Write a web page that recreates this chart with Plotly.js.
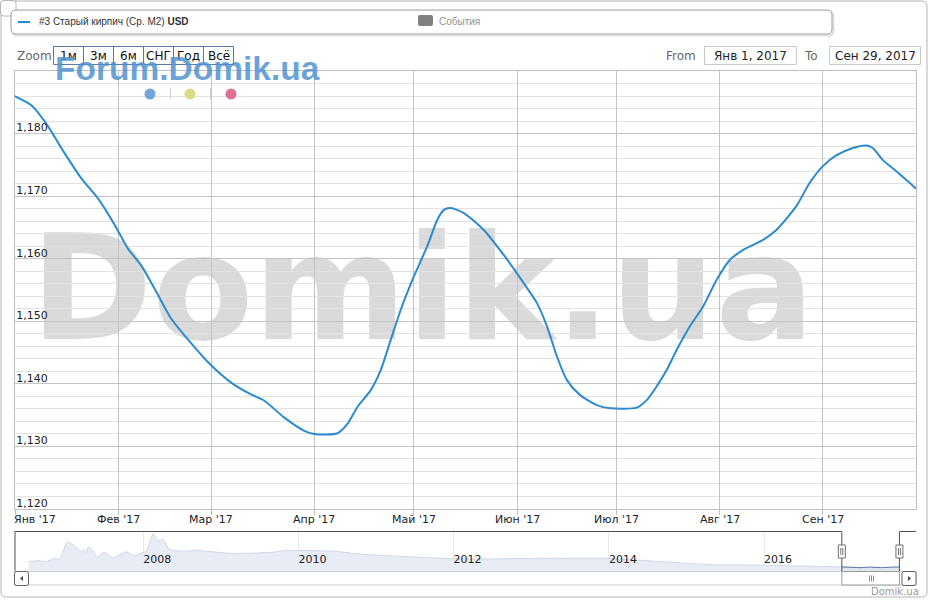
<!DOCTYPE html>
<html>
<head>
<meta charset="utf-8">
<script src="https://cdn.plot.ly/plotly-3.0.1.min.js"></script>
<style>html,body{margin:0;padding:0;background:#fff;}#chart{width:931px;height:600px;}</style>
</head>
<body>
<div id="chart"></div>
<script>
// ---- data ----
const seriesName = "#3 Старый кирпич (Ср. М2) <b>USD</b>";
const mainDates = ['2016-12-31','2017-01-06','2017-01-10','2017-01-16','2017-01-21','2017-01-26','2017-01-31','2017-02-04','2017-02-08','2017-02-12','2017-02-17','2017-02-22','2017-02-28','2017-03-07','2017-03-13','2017-03-17','2017-03-23','2017-03-29','2017-04-01','2017-04-08','2017-04-11','2017-04-14','2017-04-18','2017-04-21','2017-04-24','2017-04-27','2017-05-01','2017-05-05','2017-05-08','2017-05-10','2017-05-12','2017-05-16','2017-05-22','2017-05-28','2017-06-03','2017-06-07','2017-06-10','2017-06-13','2017-06-16','2017-06-20','2017-06-25','2017-06-29','2017-07-07','2017-07-10','2017-07-13','2017-07-16','2017-07-19','2017-07-23','2017-07-27','2017-07-31','2017-08-04','2017-08-08','2017-08-14','2017-08-18','2017-08-24','2017-08-28','2017-09-01','2017-09-05','2017-09-10','2017-09-14','2017-09-16','2017-09-19','2017-09-23','2017-09-29'];
const mainValues = [1186.2,1184.5,1181.9,1176.8,1172.8,1169.6,1165.4,1161.6,1158.9,1155.2,1150.4,1147.1,1143.5,1140.2,1138.3,1137.3,1134.6,1132.5,1132.0,1132.1,1133.6,1136.3,1139.0,1142.2,1147.0,1151.8,1157.2,1162.0,1166.2,1167.8,1168.1,1167.3,1164.6,1160.6,1156.1,1152.9,1149.2,1144.4,1140.6,1138.2,1136.6,1136.1,1136.2,1137.4,1139.6,1142.2,1145.4,1149.2,1152.4,1156.6,1159.8,1161.4,1163.0,1164.6,1168.4,1172.1,1174.8,1176.5,1177.7,1178.1,1177.7,1175.8,1174.0,1171.2];

const navDates = ['2006-07-12','2006-09-01','2006-09-27','2006-11-04','2006-12-05','2007-01-08','2007-02-01','2007-03-03','2007-03-18','2007-03-26','2007-04-07','2007-04-18','2007-05-03','2007-05-29','2007-06-19','2007-07-12','2007-08-12','2007-10-14','2007-11-22','2007-12-24','2008-01-17','2008-02-17','2008-03-12','2008-04-01','2008-05-05','2008-07-22','2008-08-23','2009-02-28','2009-09-04','2009-11-06','2010-06-13','2010-11-17','2011-04-23','2011-09-27','2012-03-03','2013-02-25','2013-12-20','2014-08-28','2015-05-07','2015-12-14','2016-10-22','2017-01-01','2017-04-01','2017-05-12','2017-07-01','2017-09-14','2017-09-29'];
const navValues = [1578,1630,1534,1778,1755,2980,2811,2442,2272,2442,2198,2612,2493,1874,2147,2198,1829,2272,1999,2198,2316,3600,3054,3180,2442,2316,2390,2147,2243,2368,2316,2073,1947,1829,1755,1800,1800,1578,1335,1313,1209,1186,1132,1168,1136,1178,1171];

const monthTicks = ['2017-01-01','2017-02-01','2017-03-01','2017-04-01','2017-05-01','2017-06-01','2017-07-01','2017-08-01','2017-09-01'];
const monthLabels = ["Янв '17","Фев '17","Мар '17","Апр '17","Май '17","Июн '17","Июл '17","Авг '17","Сен '17"];
const valueTicks = [1120, 1130, 1140, 1150, 1160, 1170, 1180];
const yearTicks = ['2008-01-01','2010-01-01','2012-01-01','2014-01-01','2016-01-01'];
const yearLabels = ['2008','2010','2012','2014','2016'];
const zoomButtons = ['1м','3м','6м','СНГ','Год','Всё'];
const mainRange = ['2017-01-01','2017-09-29'];
const valueRange = [1120, 1190];
const navRange = ['2006-05-08','2017-12-16'];
const fromText = 'Янв 1, 2017';
const toText = 'Сен 29, 2017';

// ---- pixel -> paper helpers for decorations ----
const W = 931, H = 600, ML = 15, MR = 15, MT = 71, MB = 29;
const PW = W - ML - MR, PH = H - MT - MB;
const X = p => (p - ML) / PW;
const Y = p => (H - MB - p) / PH;
function rr(x0, y0, x1, y1, r) {
  const P = (x, y) => X(x) + ',' + Y(y);
  return 'M' + P(x0 + r, y0) + ' L' + P(x1 - r, y0) + ' Q' + P(x1, y0) + ' ' + P(x1, y0 + r) +
    ' L' + P(x1, y1 - r) + ' Q' + P(x1, y1) + ' ' + P(x1 - r, y1) +
    ' L' + P(x0 + r, y1) + ' Q' + P(x0, y1) + ' ' + P(x0, y1 - r) +
    ' L' + P(x0, y0 + r) + ' Q' + P(x0, y0) + ' ' + P(x0 + r, y0) + ' Z';
}
const pathShape = (path, line, fill, extra) => Object.assign({type: 'path', xref: 'paper', yref: 'paper', path: path,
  line: line, fillcolor: fill || 'rgba(0,0,0,0)'}, extra || {});
const lineShape = (x0, y0, x1, y1, color, width) => ({type: 'line', xref: 'paper', yref: 'paper',
  x0: X(x0), y0: Y(y0), x1: X(x1), y1: Y(y1), line: {color: color, width: width || 1}});

const shapes = [];
const annotations = [];

// watermark behind gridlines
shapes.push({type: 'rect', xref: 'x domain', yref: 'y domain', layer: 'below',
  x0: (40 - ML) / PW, x1: (805 - ML) / PW, y0: (509 - 337) / 438, y1: (509 - 217) / 438,
  line: {width: 0}, fillcolor: 'rgba(0,0,0,0)',
  label: {text: 'Domik.ua', textposition: 'middle center',
    font: {family: 'DejaVu Sans', size: 147, color: '#dadada', weight: 'bold'}}});

// month labels below the time axis, placed by the axis scale
monthTicks.forEach((d, i) => {
  annotations.push({xref: 'x', yref: 'paper', x: d, y: Y(519.5), xanchor: i === 0 ? 'left' : 'center',
    xshift: i === 0 ? -3 : 0, yanchor: 'middle', text: monthLabels[i], showarrow: false,
    font: {size: 11, color: '#222'}});
});

// outer frame
shapes.push(pathShape(rr(1, 1, 927, 597, 5), {color: '#b4b4b4', width: 1}));
shapes.push(pathShape(rr(0.5, 0.5, 16, 16, 3), {color: '#b4b4b4', width: 1}, '#ffffff'));

// legend box
shapes.push(pathShape(rr(12.5, 11.5, 833.5, 35.5, 5), {color: 'rgba(0,0,0,0.12)', width: 2}));
shapes.push(pathShape(rr(11, 10, 832, 34, 5), {color: '#9a9a9a', width: 1}, '#ffffff'));
shapes.push(lineShape(18, 22, 30, 22, '#2d8bcd', 2));
shapes.push(pathShape(rr(418, 15, 433, 26, 2), {width: 0}, '#808080'));
annotations.push({xref: 'paper', yref: 'paper', x: X(37), y: Y(22), xanchor: 'left', yanchor: 'middle',
  text: seriesName, showarrow: false, font: {family: 'Liberation Sans', size: 10, color: '#333'}});
annotations.push({xref: 'paper', yref: 'paper', x: X(437), y: Y(22), xanchor: 'left', yanchor: 'middle',
  text: 'События', showarrow: false, font: {family: 'Liberation Sans', size: 10, color: '#909090'}});

// zoom buttons
annotations.push({xref: 'paper', yref: 'paper', x: X(15), y: Y(56), xanchor: 'left', yanchor: 'middle',
  text: 'Zoom', showarrow: false, font: {size: 12, color: '#666'}});
zoomButtons.forEach((b, i) => {
  const x0 = 53.5 + 30 * i;
  shapes.push({type: 'rect', xref: 'paper', yref: 'paper', x0: X(x0), x1: X(x0 + 30), y0: Y(46.5), y1: Y(64.5),
    line: {color: '#5b7aa3', width: 1}, fillcolor: 'rgba(0,0,0,0)'});
  annotations.push({xref: 'paper', yref: 'paper', x: X(x0 + 15), y: Y(56), xanchor: 'center', yanchor: 'middle',
    text: b, showarrow: false, font: {size: 12, color: '#111'}});
});

// From / To
annotations.push({xref: 'paper', yref: 'paper', x: X(698), y: Y(56), xanchor: 'right', yanchor: 'middle',
  text: 'From', showarrow: false, font: {size: 12, color: '#666'}});
shapes.push({type: 'rect', xref: 'paper', yref: 'paper', x0: X(704.5), x1: X(796.5), y0: Y(46.5), y1: Y(64.5),
  line: {color: '#c8c8c8', width: 1}, fillcolor: 'rgba(0,0,0,0)'});
annotations.push({xref: 'paper', yref: 'paper', x: X(750.5), y: Y(56), xanchor: 'center', yanchor: 'middle',
  text: fromText, showarrow: false, font: {size: 12, color: '#222'}});
annotations.push({xref: 'paper', yref: 'paper', x: X(820), y: Y(56), xanchor: 'right', yanchor: 'middle',
  text: 'To', showarrow: false, font: {size: 12, color: '#666'}});
shapes.push({type: 'rect', xref: 'paper', yref: 'paper', x0: X(829.5), x1: X(920.5), y0: Y(46.5), y1: Y(64.5),
  line: {color: '#c8c8c8', width: 1}, fillcolor: 'rgba(0,0,0,0)'});
annotations.push({xref: 'paper', yref: 'paper', x: X(875), y: Y(56), xanchor: 'center', yanchor: 'middle',
  text: toText, showarrow: false, font: {size: 12, color: '#222'}});

// Forum.Domik.ua logo
annotations.push({xref: 'paper', yref: 'paper', x: X(53), y: Y(68.5), xanchor: 'left', yanchor: 'middle',
  text: '<b>Forum.Domik.ua</b>', showarrow: false,
  font: {family: 'Liberation Sans', size: 33.5, color: 'rgba(80,146,208,0.85)'}});
[['#74a6da', 150], ['#d8dc84', 190], ['#dc7390', 231]].forEach(d => {
  shapes.push({type: 'circle', xref: 'paper', yref: 'paper', x0: X(d[1] - 5.5), x1: X(d[1] + 5.5),
    y0: Y(99.5), y1: Y(88.5), line: {width: 0}, fillcolor: d[0]});
});
shapes.push(lineShape(170.5, 88, 170.5, 99, '#d0d0d0', 1));
shapes.push(lineShape(210.5, 88, 210.5, 99, '#d0d0d0', 1));

// navigator outline
const navOutline = {color: '#505050', width: 1};
shapes.push({type: 'line', xref: 'paper', yref: 'paper', x0: 0, x1: 0, y0: Y(571), y1: Y(531.5), line: navOutline});
shapes.push({type: 'line', xref: 'x2', yref: 'paper', x0: navRange[0], x1: mainRange[0], y0: Y(531.5), y1: Y(531.5), line: navOutline});
shapes.push({type: 'line', xref: 'x2', yref: 'paper', x0: mainRange[0], x1: mainRange[0], y0: Y(531.5), y1: Y(571), line: navOutline});
shapes.push({type: 'line', xref: 'x2', yref: 'paper', x0: mainRange[1], x1: mainRange[1], y0: Y(531.5), y1: Y(571), line: navOutline});
shapes.push({type: 'line', xref: 'x2', yref: 'paper', x0: mainRange[1], x1: navRange[1], y0: Y(531.5), y1: Y(531.5), line: navOutline});

// scrollbar
shapes.push({type: 'rect', xref: 'paper', yref: 'paper', x0: X(15), x1: X(916), y0: Y(585), y1: Y(571.5),
  line: {color: '#cccccc', width: 1}, fillcolor: '#ffffff'});
shapes.push({type: 'rect', xref: 'x2', yref: 'paper', x0: mainRange[0], x1: mainRange[1], y0: Y(585), y1: Y(571.5),
  line: {color: '#9a9a9a', width: 1}, fillcolor: '#ffffff'});
shapes.push(pathShape(rr(14.5, 571.5, 28.5, 585.5, 2), {color: '#606060', width: 1}, '#ffffff'));
shapes.push(pathShape(rr(902, 571.5, 916, 585.5, 2), {color: '#606060', width: 1}, '#ffffff'));
shapes.push({type: 'path', xref: 'paper', yref: 'paper',
  path: 'M' + X(23) + ',' + Y(576) + ' L' + X(20) + ',' + Y(578.5) + ' L' + X(23) + ',' + Y(581) + ' Z',
  line: {width: 0}, fillcolor: '#444'});
shapes.push({type: 'path', xref: 'paper', yref: 'paper',
  path: 'M' + X(908) + ',' + Y(576) + ' L' + X(911) + ',' + Y(578.5) + ' L' + X(908) + ',' + Y(581) + ' Z',
  line: {width: 0}, fillcolor: '#444'});
[869.5, 871.5, 873.5].forEach(gx => shapes.push(lineShape(gx, 575.5, gx, 581.5, '#8a8a8a', 1)));

// handles at the selected-range edges
[mainRange[0], mainRange[1]].forEach(d => {
  shapes.push({type: 'rect', xref: 'x2', yref: 'paper', y0: Y(558), y1: Y(545),
    xsizemode: 'pixel', xanchor: d, x0: -3.5, x1: 3.5,
    line: {color: '#707070', width: 1}, fillcolor: '#ffffff'});
  shapes.push({type: 'line', xref: 'x2', yref: 'paper', xsizemode: 'pixel', xanchor: d, x0: -1, x1: -1,
    y0: Y(555), y1: Y(548), line: {color: '#707070', width: 1}});
  shapes.push({type: 'line', xref: 'x2', yref: 'paper', xsizemode: 'pixel', xanchor: d, x0: 1, x1: 1,
    y0: Y(555), y1: Y(548), line: {color: '#707070', width: 1}});
});

// credits
annotations.push({xref: 'paper', yref: 'paper', x: X(921), y: Y(591), xanchor: 'right', yanchor: 'middle',
  text: 'Domik.ua', showarrow: false, font: {size: 10, color: '#999'}});

// selected part of the navigator series (same data, filtered to the shown range)
const selIdx = navDates.map((d, i) => i).filter(i => navDates[i] >= mainRange[0] && navDates[i] <= mainRange[1]);

const traces = [
  {type: 'scatter', mode: 'lines', x: mainDates, y: mainValues, xaxis: 'x', yaxis: 'y',
    line: {color: '#2d8bcd', width: 2, shape: 'spline', smoothing: 0.7}, hoverinfo: 'x+y', showlegend: false},
  {type: 'scatter', mode: 'lines', x: navDates, y: navValues, xaxis: 'x2', yaxis: 'y2', fill: 'tozeroy',
    fillcolor: '#e8ecf5', line: {color: '#cfd8e8', width: 1, shape: 'spline', smoothing: 0.5},
    hoverinfo: 'skip', showlegend: false},
  {type: 'scatter', mode: 'lines', x: selIdx.map(i => navDates[i]), y: selIdx.map(i => navValues[i]),
    xaxis: 'x2', yaxis: 'y2', fill: 'tozeroy',
    fillcolor: '#dfe6f2', line: {color: '#5577aa', width: 1, shape: 'spline', smoothing: 0.5},
    hoverinfo: 'skip', showlegend: false}
];

const layout = {
  width: W, height: H,
  margin: {l: ML, r: MR, t: MT, b: MB, pad: 0},
  paper_bgcolor: 'rgba(0,0,0,0)', plot_bgcolor: 'rgba(0,0,0,0)',
  font: {family: 'DejaVu Sans', size: 11, color: '#333'},
  showlegend: false,
  xaxis: {type: 'date', range: mainRange, domain: [0, 1], anchor: 'y',
    tickmode: 'array', tickvals: monthTicks, showticklabels: false,
    ticks: 'outside', ticklen: 5, tickcolor: '#c0c0c0', tickwidth: 1,
    showgrid: true, gridcolor: '#c4c4c4', gridwidth: 1,
    showline: true, mirror: true, linecolor: '#c0c0c0', linewidth: 1,
    zeroline: false, fixedrange: true},
  yaxis: {range: valueRange, domain: [0.124, 1], anchor: 'x',
    tickmode: 'array', tickvals: valueTicks, tickformat: ',d',
    ticklabelposition: 'outside', ticklabelshift: -6, ticklabelstandoff: -36,
    showgrid: true, gridcolor: '#c4c4c4', gridwidth: 1,
    minor: {tickmode: 'linear', tick0: 1120, dtick: 2, showgrid: true, gridcolor: '#e2e2e2', gridwidth: 1},
    showline: true, mirror: true, linecolor: '#c0c0c0', linewidth: 1,
    tickfont: {size: 11, color: '#222'}, zeroline: false, fixedrange: true},
  xaxis2: {type: 'date', range: navRange, domain: [0, 1], anchor: 'y2',
    tickmode: 'array', tickvals: yearTicks, ticktext: yearLabels,
    ticklabelposition: 'inside right', ticks: '',
    showgrid: true, gridcolor: '#e8e8e8', gridwidth: 1, showline: false,
    tickfont: {size: 11, color: '#222'}, zeroline: false, fixedrange: true},
  yaxis2: {range: [892, 3770], domain: [0, 0.08], anchor: 'x2',
    showgrid: false, showticklabels: false, showline: false, zeroline: false, fixedrange: true},
  shapes: shapes,
  annotations: annotations
};

Plotly.newPlot('chart', traces, layout, {displayModeBar: false});
</script>
</body>
</html>
